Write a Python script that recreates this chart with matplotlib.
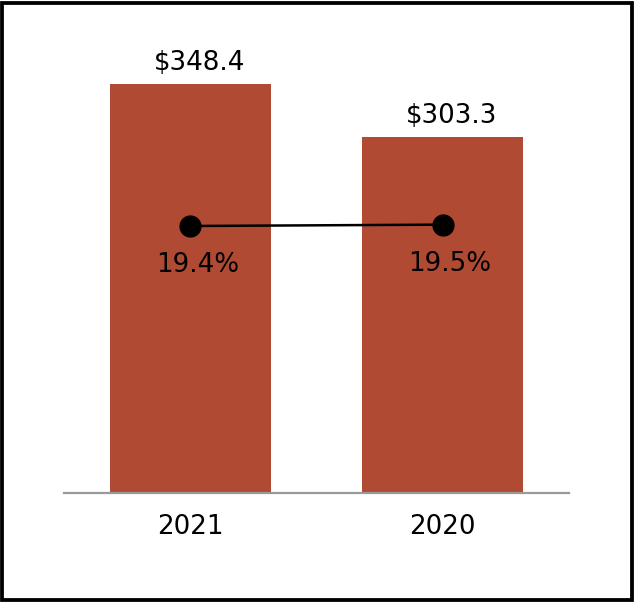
import matplotlib
matplotlib.use("Agg")
import matplotlib.pyplot as plt
from matplotlib.patches import Rectangle

years = ["2021", "2020"]
sales = [348.4, 303.3]
margin = [19.4, 19.5]
sales_labels = ["$348.4", "$303.3"]
margin_labels = ["19.4%", "19.5%"]

W, H = 634, 602
dpi = 100
fig = plt.figure(figsize=(W / dpi, H / dpi), dpi=dpi)

FS = 18.8
# axes in pixel coordinates
left, right = 64, 569
bottom_px = 493
scale = 409 / 348.4
ymax = 400
top_px = bottom_px - ymax * scale
ax = fig.add_axes([left / W, 1 - bottom_px / H, (right - left) / W, (bottom_px - top_px) / H])
ax.set_xlim(-0.5, 1.5)
ax.set_ylim(0, ymax)
x = list(range(len(years)))
ax.bar(x, sales, width=0.636, color="#B04A33", zorder=2)
for s in ["top", "right", "left"]:
    ax.spines[s].set_visible(False)
ax.spines["bottom"].set_color("#999999")
ax.spines["bottom"].set_linewidth(1.6)
ax.set_yticks([])
ax.set_xticks(x)
ax.set_xticklabels(years, fontsize=FS)
ax.tick_params(axis="x", length=0, pad=15)
for xi, v, lab in zip(x, sales, sales_labels):
    ax.annotate(lab, (xi, v), xytext=(9, 8), textcoords="offset pixels",
                ha="center", va="bottom", fontsize=FS)

ax2 = ax.twinx()
ax2.set_ylim(0, ymax * scale / (267 / 19.4))
ax2.plot(x, margin, color="black", lw=1.8, marker="o", ms=15, zorder=3)
ax2.axis("off")
for xi, v, lab in zip(x, margin, margin_labels):
    ax2.annotate(lab, (xi, v), xytext=(7, -39), textcoords="offset pixels",
                 ha="center", va="center", fontsize=FS)

fig.patches.append(Rectangle((2 / W, 2 / H), 1 - 4.5 / W, 1 - 4.5 / H,
                             transform=fig.transFigure, fill=False,
                             edgecolor="black", linewidth=3.8 * 72 / dpi))

fig.savefig("out.png", dpi=dpi)
